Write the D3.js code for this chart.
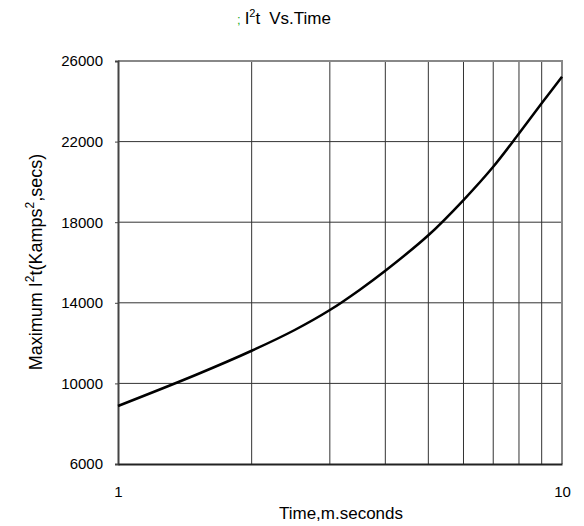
<!DOCTYPE html>
<html><head><meta charset="utf-8">
<script src="https://cdn.jsdelivr.net/npm/d3@7/dist/d3.min.js"></script>
<style>body{margin:0;background:#fff}svg{display:block;font-family:"Liberation Sans",Arial,sans-serif}</style>
</head><body>
<svg id="c" width="584" height="526"></svg>
<script>
const times = [1, 1.5, 2, 2.5, 3, 3.5, 4, 5, 6, 7, 8, 9, 10];
const i2t = [8880, 10430, 11620, 12650, 13640, 14640, 15590, 17350, 19100, 20750, 22400, 23900, 25220];
const yTicks = [6000, 10000, 14000, 18000, 22000, 26000];
const xGrid = [2, 3, 4, 5, 6, 7, 8, 9];
const xTickLabels = [1, 10];

const svg = d3.select("#c");
const L = 118, R = 562, T = 61, B = 464;
const x = d3.scaleLog().domain([1, 10]).range([L, R]);
const y = d3.scaleLinear().domain([6000, 26000]).range([B, T]);
const FF = '"Liberation Sans",Arial,sans-serif';

// grid
svg.append("g").selectAll("line").data(xGrid).join("line")
  .attr("x1", d => x(d)).attr("x2", d => x(d)).attr("y1", T).attr("y2", B)
  .attr("stroke", "#333").attr("stroke-width", 1);
svg.append("g").selectAll("line").data(yTicks.slice(1, -1)).join("line")
  .attr("x1", L).attr("x2", R).attr("y1", d => y(d)).attr("y2", d => y(d))
  .attr("stroke", "#333").attr("stroke-width", 1);

// top & right border
svg.append("path").attr("d", `M${L},${T}H${R}V${B}`).attr("fill", "none")
  .attr("stroke", "#888").attr("stroke-width", 2);

// y axis
const ya = svg.append("g").attr("transform", `translate(${L},0)`)
  .call(d3.axisLeft(y).tickValues(yTicks).tickSize(3).tickPadding(12).tickFormat(d3.format("d")));
ya.select(".domain").attr("stroke", "#444").attr("stroke-width", 2);
ya.selectAll(".tick line").attr("stroke", "#444");
ya.selectAll("text").attr("font-size", 15).attr("font-family", FF).attr("fill", "#000");

// x axis
const xa = svg.append("g").attr("transform", `translate(0,${B})`)
  .call(d3.axisBottom(x).tickValues(xTickLabels).tickSize(0).tickPadding(22).tickFormat(d3.format("d")));
xa.select(".domain").attr("stroke", "#222").attr("stroke-width", 2);
xa.selectAll("text").attr("font-size", 15).attr("font-family", FF).attr("fill", "#000");

// curve
const line = d3.line().x(d => x(d[0])).y(d => y(d[1])).curve(d3.curveCatmullRom.alpha(0.5));
svg.append("path").datum(times.map((t, i) => [t, i2t[i]]))
  .attr("d", line).attr("fill", "none").attr("stroke", "#000").attr("stroke-width", 2.5);

// title
const title = svg.append("text").attr("x", 237).attr("y", 24).attr("font-size", 17);
title.append("tspan").attr("fill", "#2a2").attr("font-size", 13).text(";");
title.append("tspan").attr("dx", 4).text("I");
title.append("tspan").attr("dy", -7).attr("font-size", 11).text("2");
title.append("tspan").attr("dy", 7).text("t");
title.append("tspan").attr("dx", 9).text("Vs.Time");

// x title
svg.append("text").attr("x", 341).attr("y", 519).attr("text-anchor", "middle")
  .attr("font-size", 17).text("Time,m.seconds");

// y title
const yt = svg.append("text").attr("transform", "translate(42,262) rotate(-90)")
  .attr("text-anchor", "middle").attr("font-size", 18);
yt.append("tspan").text("Maximum I");
yt.append("tspan").attr("dy", -8).attr("font-size", 12).text("2");
yt.append("tspan").attr("dy", 8).text("t(Kamps");
yt.append("tspan").attr("dy", -8).attr("font-size", 12).text("2");
yt.append("tspan").attr("dy", 8).text(",secs)");
</script>
</body></html>
